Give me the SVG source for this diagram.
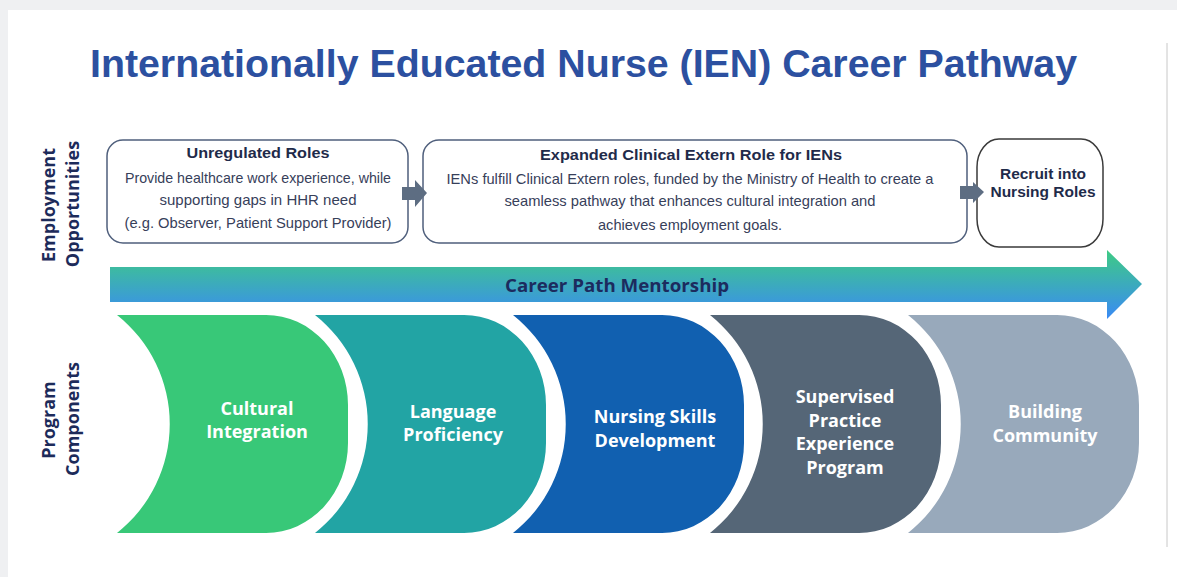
<svg xmlns="http://www.w3.org/2000/svg" width="1177" height="577" viewBox="0 0 1177 577">
<style>
.hdr{font-family:"Open Sans","Liberation Sans",sans-serif;font-weight:700;font-size:18px;fill:#1d2b5a;text-anchor:middle}
.comp{font-family:"Open Sans","Liberation Sans",sans-serif;font-weight:700;font-size:18px;fill:#ffffff;text-anchor:middle}
.bt{font-family:"Liberation Sans",Arial,sans-serif;font-weight:700;font-size:15.5px;fill:#1f2b4a;text-anchor:middle}
.bb{font-family:"Liberation Sans",Arial,sans-serif;font-size:14.3px;fill:#37405a;text-anchor:middle}
.box{fill:#ffffff;stroke:#4f5f7c;stroke-width:1.5}
.conn{fill:#5d6d82}
</style>
<defs>
<linearGradient id="mgrad" gradientUnits="userSpaceOnUse" x1="0" y1="250" x2="0" y2="319">
<stop offset="0" stop-color="#3ecb84"/>
<stop offset="1" stop-color="#3a8af5"/>
</linearGradient>
</defs>
<rect x="0" y="0" width="1177" height="577" fill="#eff0f2"/>
<rect x="8" y="10" width="1169" height="567" fill="#ffffff"/>
<line x1="1167" y1="43" x2="1167" y2="547" stroke="#c8c8c8" stroke-width="1"/>

<text id="title" x="583.5" y="77" font-family="'Liberation Sans',Arial,sans-serif" font-weight="700" font-size="39" fill="#2c50a0" text-anchor="middle" textLength="987" lengthAdjust="spacingAndGlyphs">Internationally Educated Nurse (IEN) Career Pathway</text>

<g id="label-employment">
<text class="hdr" transform="translate(55,205) rotate(-90)">Employment</text>
<text class="hdr" transform="translate(79,204) rotate(-90)">Opportunities</text>
</g>
<g id="label-program">
<text class="hdr" transform="translate(55,420) rotate(-90)">Program</text>
<text class="hdr" transform="translate(79,419) rotate(-90)">Components</text>
</g>

<g id="unregulated-roles">
<rect class="box" x="107" y="140" width="301" height="103" rx="16"/>
<text class="bt" x="258" y="158" textLength="143" lengthAdjust="spacingAndGlyphs">Unregulated Roles</text>
<text class="bb" x="258" y="183" textLength="266" lengthAdjust="spacingAndGlyphs">Provide healthcare work experience, while</text>
<text class="bb" x="258" y="205" textLength="197" lengthAdjust="spacingAndGlyphs">supporting gaps in HHR need</text>
<text class="bb" x="258" y="228" textLength="267" lengthAdjust="spacingAndGlyphs">(e.g. Observer, Patient Support Provider)</text>
</g>

<g id="clinical-extern">
<rect class="box" x="423" y="140" width="544" height="103" rx="16"/>
<text class="bt" x="691" y="160" textLength="302" lengthAdjust="spacingAndGlyphs">Expanded Clinical Extern Role for IENs</text>
<text class="bb" x="690" y="184" textLength="487" lengthAdjust="spacingAndGlyphs">IENs fulfill Clinical Extern roles, funded by the Ministry of Health to create a</text>
<text class="bb" x="690" y="206" textLength="371" lengthAdjust="spacingAndGlyphs">seamless pathway that enhances cultural integration and</text>
<text class="bb" x="690" y="230" textLength="184" lengthAdjust="spacingAndGlyphs">achieves employment goals.</text>
</g>

<g id="recruit">
<rect x="977" y="139" width="126" height="108" rx="22" ry="28" fill="#ffffff" stroke="#3a3a3a" stroke-width="1.5"/>
<text class="bt" x="1043" y="179" font-size="14.5">Recruit into</text>
<text class="bt" x="1043" y="197" font-size="14.5">Nursing Roles</text>
</g>

<g id="connectors">
<polygon class="conn" points="402,187 415,187 415,180 427,193 415,207 415,200 402,200"/>
<polygon class="conn" points="960,186 973,186 973,182 984,192 973,203 973,199 960,199"/>
</g>

<g id="mentorship">
<polygon points="110,267 1107,267 1107,250 1142,284 1107,319 1107,302 110,302" fill="url(#mgrad)"/>
<text x="617" y="292" font-family="'Open Sans','Liberation Sans',sans-serif" font-weight="700" font-size="18.5" fill="#1c2b5e" text-anchor="middle" textLength="224" lengthAdjust="spacingAndGlyphs">Career Path Mentorship</text>
</g>

<g id="cultural-integration">
<path d="M117,315 H266 A82 90 0 0 1 348,405 V443 A82 90 0 0 1 266,533 H117 A139 139 0 0 0 117,315 Z" fill="#38c878"/>
<text class="comp" x="257" y="415">Cultural</text>
<text class="comp" x="257" y="438">Integration</text>
</g>
<g id="language-proficiency">
<path d="M315,315 H464 A82 90 0 0 1 546,405 V443 A82 90 0 0 1 464,533 H315 A139 139 0 0 0 315,315 Z" fill="#22a4a4"/>
<text class="comp" x="453" y="418">Language</text>
<text class="comp" x="453" y="441">Proficiency</text>
</g>
<g id="nursing-skills">
<path d="M513,315 H662 A82 90 0 0 1 744,405 V443 A82 90 0 0 1 662,533 H513 A139 139 0 0 0 513,315 Z" fill="#1160b0"/>
<text class="comp" x="655" y="423">Nursing Skills</text>
<text class="comp" x="655" y="447">Development</text>
</g>
<g id="supervised-practice">
<path d="M710,315 H859 A82 90 0 0 1 941,405 V443 A82 90 0 0 1 859,533 H710 A139 139 0 0 0 710,315 Z" fill="#556677"/>
<text class="comp" x="845" y="403">Supervised</text>
<text class="comp" x="845" y="427">Practice</text>
<text class="comp" x="845" y="450">Experience</text>
<text class="comp" x="845" y="474">Program</text>
</g>
<g id="building-community">
<path d="M908,315 H1057 A82 90 0 0 1 1139,405 V443 A82 90 0 0 1 1057,533 H908 A139 139 0 0 0 908,315 Z" fill="#98a9bb"/>
<text class="comp" x="1045" y="418">Building</text>
<text class="comp" x="1045" y="442">Community</text>
</g>
</svg>
